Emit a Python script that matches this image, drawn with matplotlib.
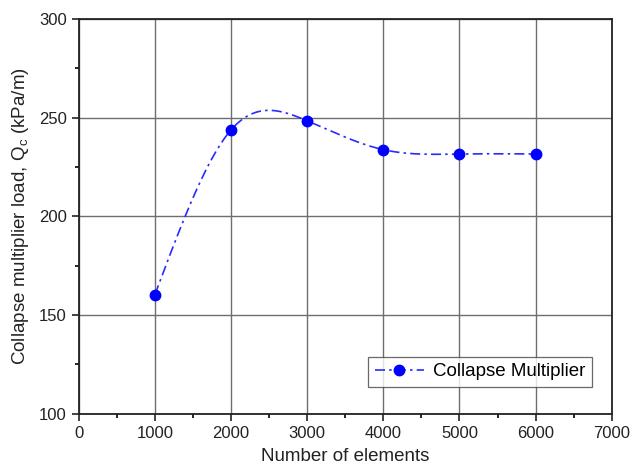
import matplotlib
matplotlib.use("Agg")
import matplotlib.pyplot as plt
import numpy as np
from matplotlib.ticker import MultipleLocator

plt.rcParams['font.family'] = ['Liberation Sans', 'DejaVu Sans']
plt.rcParams['mathtext.fontset'] = 'custom'
plt.rcParams['mathtext.rm'] = 'Liberation Sans'
plt.rcParams['mathtext.it'] = 'Liberation Sans'

# Mesh convergence data
elementos = [1000, 2000, 3000, 4000, 5000, 6000]
carga = [160.3, 243.8, 248.4, 233.8, 231.6, 231.6]


def spline_natural(x, y, xs):
    # cubic spline with natural end conditions
    x = np.asarray(x, float)
    y = np.asarray(y, float)
    n = len(x)
    h = np.diff(x)
    A = np.zeros((n, n))
    b = np.zeros(n)
    A[0, 0] = A[-1, -1] = 1
    for i in range(1, n - 1):
        A[i, i - 1] = h[i - 1]
        A[i, i] = 2 * (h[i - 1] + h[i])
        A[i, i + 1] = h[i]
        b[i] = 6 * ((y[i + 1] - y[i]) / h[i] - (y[i] - y[i - 1]) / h[i - 1])
    M = np.linalg.solve(A, b)
    k = np.clip(np.searchsorted(x, xs) - 1, 0, n - 2)
    t0 = x[k + 1] - xs
    t1 = xs - x[k]
    hk = h[k]
    return (M[k] * t0**3 / (6 * hk) + M[k + 1] * t1**3 / (6 * hk)
            + (y[k] / hk - M[k] * hk / 6) * t0
            + (y[k + 1] / hk - M[k + 1] * hk / 6) * t1)


fig = plt.figure(figsize=(6.3, 4.74), dpi=100)
ax = fig.add_axes([0.125, 0.127, 0.846, 0.833])

estilo = (0, (6, 2.5, 1.5, 2.5))
xs = np.linspace(elementos[0], elementos[-1], 400)
ax.plot(xs, spline_natural(elementos, carga, xs), color='#2a2aff', lw=1.2,
        ls=estilo, zorder=3)
ax.plot(elementos, carga, 'o', color='#0000ff', ms=7.5, zorder=4)
# legend entry: dash-dot line with marker
ax.plot([], [], color='#2a2aff', lw=1.2, ls=estilo,
        marker='o', ms=7.5, mfc='#0000ff', mec='#0000ff', label='Collapse Multiplier')

ax.set_xlim(0, 7000)
ax.set_ylim(100, 300)
ax.xaxis.set_major_locator(MultipleLocator(1000))
ax.xaxis.set_minor_locator(MultipleLocator(500))
ax.yaxis.set_major_locator(MultipleLocator(50))
ax.yaxis.set_minor_locator(MultipleLocator(25))
ax.tick_params(which='major', direction='out', length=5, width=1.2, labelsize=12, colors='#222222')
ax.tick_params(which='minor', direction='out', length=3, width=1.2)
ax.grid(True, which='major', color='#6e6e6e', lw=1.0)

for s in ax.spines.values():
    s.set_linewidth(1.3)
    s.set_color('#222222')

ax.set_xlabel('Number of elements', fontsize=13.5, color='#222222', labelpad=5)
ax.set_ylabel(r'Collapse multiplier load, Q$_\mathregular{c}$ (kPa/m)', fontsize=13.5,
              color='#222222', labelpad=6)

leg = ax.legend(loc='lower right', bbox_to_anchor=(0.963, 0.068), fontsize=13.5,
                frameon=True, fancybox=False, handlelength=2.6, borderpad=0.35,
                handletextpad=0.5, borderaxespad=0)
leg.get_frame().set_edgecolor('#444444')
leg.get_frame().set_linewidth(0.9)

plt.savefig('out.png', dpi=100)
